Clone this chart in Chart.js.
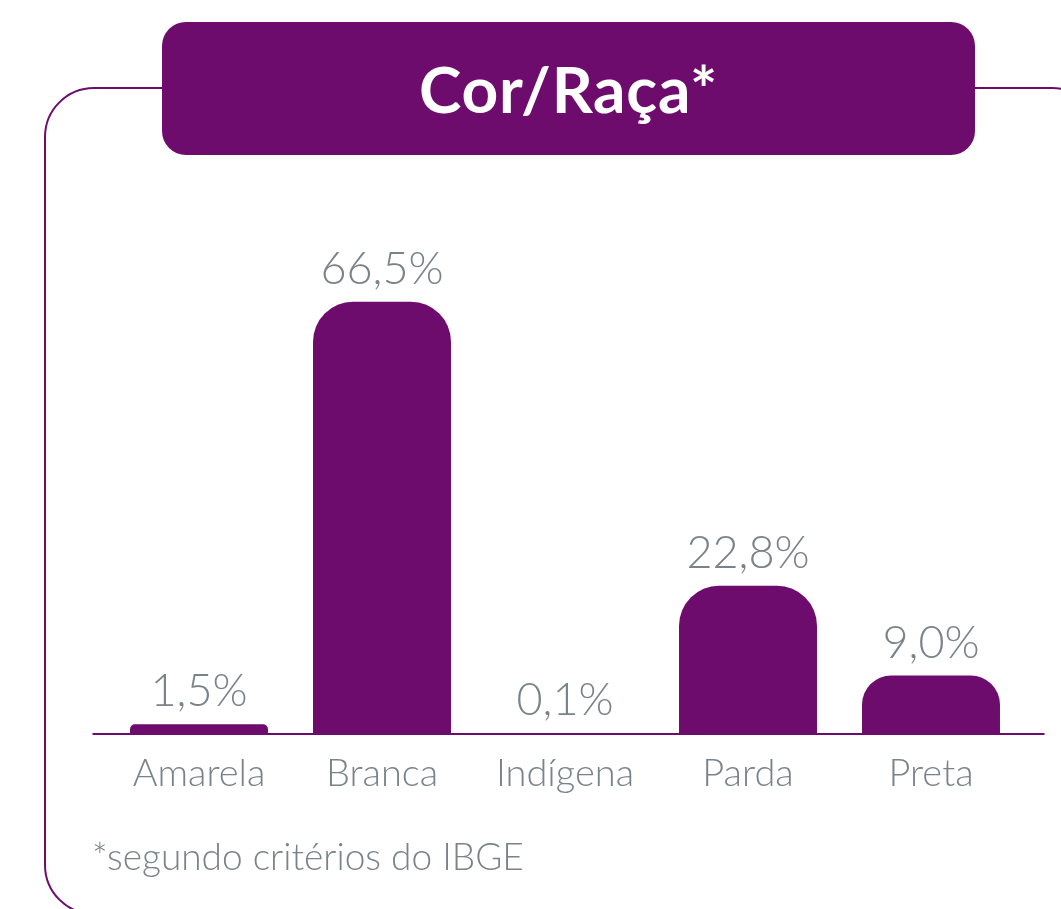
<!DOCTYPE html>
<html lang="pt-BR">
<head>
<meta charset="utf-8">
<title>Cor/Raça</title>
<script src="https://cdn.jsdelivr.net/npm/chart.js@4.4.1/dist/chart.umd.min.js"></script>
<style>
    html, body { margin: 0; padding: 0; background: #fff; }
    body { width: 1061px; height: 909px; position: relative; overflow: hidden; font-family: 'Lato', sans-serif; }
    .frame {
        position: absolute; left: 44px; top: 87px; width: 1058px; height: 828px;
        box-sizing: border-box; border: 2px solid #6e0c6e; border-radius: 50px;
    }
    .title {
        position: absolute; left: 162px; top: 22px; width: 813px; height: 133px;
        background: #6e0c6e; border-radius: 24px; color: #fff;
        font-weight: 700; font-size: 64px; line-height: 133px; text-align: center;
        letter-spacing: 0.8px;
    }
    .note {
        position: absolute; left: 92px; top: 833px; color: #7a838a;
        font-weight: 300; font-size: 37px; line-height: 46px;
    }
    #chartWrap { position: absolute; left: 0; top: 0; width: 1061px; height: 909px; }
</style>
</head>
<body>
<div class="frame"></div>
<div class="title">Cor/Raça*</div>
<div id="chartWrap"><canvas id="racaChart" width="1061" height="909"></canvas></div>
<div class="note">*segundo critérios do IBGE</div>

<script>
const categories = ['Amarela', 'Branca', 'Indígena', 'Parda', 'Preta'];
const percentages = [1.5, 66.5, 0.1, 22.8, 9.0];
const valueLabels = ['1,5%', '66,5%', '0,1%', '22,8%', '9,0%'];

const purple = '#6e0c6e';
const grey = '#7a838a';

// value labels above bars + baseline drawn past the chart area
const barLabels = {
    id: 'barLabels',
    afterDatasetsDraw(chart) {
        const { ctx, chartArea, scales } = chart;
        const y0 = Math.round(scales.y.getPixelForValue(0));
        ctx.save();
        ctx.strokeStyle = purple;
        ctx.lineWidth = 2;
        ctx.beginPath();
        ctx.moveTo(chartArea.left - 15, y0);
        ctx.lineTo(chartArea.right + 22, y0);
        ctx.stroke();

        ctx.fillStyle = grey;
        ctx.font = '300 45px Lato';
        ctx.textAlign = 'center';
        ctx.textBaseline = 'alphabetic';
        chart.getDatasetMeta(0).data.forEach((bar, i) => {
            ctx.fillText(valueLabels[i], bar.x, bar.y - 18);
        });
        ctx.restore();
    }
};

const ctx = document.getElementById('racaChart');
new Chart(ctx, {
    type: 'bar',
    data: {
        labels: categories,
        datasets: [{
            data: percentages,
            backgroundColor: purple,
            borderRadius: 40,
            borderSkipped: 'start',
            barPercentage: 0.754,
            categoryPercentage: 1
        }]
    },
    options: {
        responsive: false,
        animation: false,
        devicePixelRatio: 1,
        layout: { padding: { left: 107.5, right: 38.5, top: 214, bottom: 0 } },
        scales: {
            x: {
                grid: { display: false, drawTicks: false },
                border: { display: false },
                ticks: { color: grey, font: { family: 'Lato', weight: '300', size: 38 }, padding: 17 },
                afterFit(scale) { scale.height = 175; }
            },
            y: { display: false, min: 0, max: 80 }
        },
        plugins: { legend: { display: false }, tooltip: { enabled: false } }
    },
    plugins: [barLabels]
});
</script>
</body>
</html>
